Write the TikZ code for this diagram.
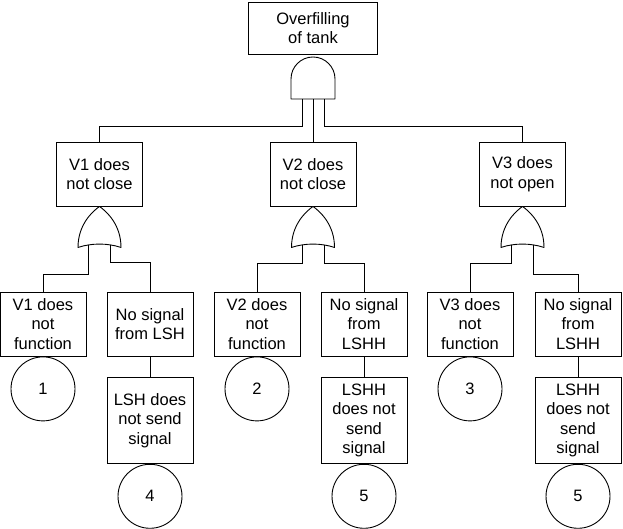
\documentclass[tikz,border=0pt]{standalone}
\usepackage{fontspec}
\setmainfont{Liberation Sans}
\usetikzlibrary{positioning}
\tikzset{
  eventbox/.style={
    draw,
    line width=0.9pt,
    minimum width=86pt,
    minimum height=64pt,
    inner sep=0pt,
    align=center,
    font=\fontsize{16.5}{19.5}\selectfont
  },
  topbox/.style={eventbox, minimum width=129pt, minimum height=52pt},
  basebox/.style={eventbox, minimum height=85.5pt},
  basecircle/.style={
    circle,
    draw,
    line width=0.9pt,
    minimum size=64pt,
    inner sep=0pt,
    font=\fontsize{16.5}{19.5}\selectfont
  },
  link/.style={line width=0.9pt},
  gateline/.style={draw, line width=0.9pt, fill=white, line join=round},
  andgate/.pic={
    \draw[gateline] (-22,0) -- (-22,20) arc[start angle=180, end angle=0, radius=22] -- (22,0) -- cycle;
    \coordinate (-in1) at (-11,0);
    \coordinate (-in2) at (0,0);
    \coordinate (-in3) at (11,0);
  },
  orgate/.pic={
    \draw[gateline] (0,0) .. controls (7,-5) and (21.5,-18) .. (21.5,-41)
      .. controls (8,-36.5) and (-8,-36.5) .. (-21.5,-41)
      .. controls (-21.5,-18) and (-7,-5) .. cycle;
    \coordinate (-in1) at (-11,-38.3);
    \coordinate (-in2) at (11,-38.3);
  }
}
\begin{document}
\begin{tikzpicture}[x=1pt, y=1pt]
\useasboundingbox (0,0) rectangle (623,529);
% top event
\node[topbox] (overfill) at (313,501) {Overfilling\\of tank};
\pic (and0) at (313,430) {andgate};
% intermediate events
\node[eventbox] (v1close) at (99.5,355) {V1 does\\not close};
\node[eventbox] (v2close) at (313,355) {V2 does\\not close};
\node[eventbox] (v3open) at (522.5,355) {V3 does\\not open};
\pic (or1) at (v1close.south) {orgate};
\pic (or2) at (v2close.south) {orgate};
\pic (or3) at (v3open.south) {orgate};
% lower events
\node[eventbox] (v1fail) at (43,205) {V1 does\\not\\function};
\node[eventbox] (nosig1) at (150,205) {No signal\\from LSH};
\node[eventbox] (v2fail) at (257,205) {V2 does\\not\\function};
\node[eventbox] (nosig2) at (364,205) {No signal\\from\\LSHH};
\node[eventbox] (v3fail) at (470,205) {V3 does\\not\\function};
\node[eventbox] (nosig3) at (578,205) {No signal\\from\\LSHH};
\node[basebox, below=21pt of nosig1] (lshfail) {LSH does\\not send\\signal};
\node[basebox, below=21pt of nosig2] (lshhfail2) {LSHH\\does not\\send\\signal};
\node[basebox, below=21pt of nosig3] (lshhfail3) {LSHH\\does not\\send\\signal};
% basic events
\node[basecircle, below=0pt of v1fail] (ev1) {1};
\node[basecircle, below=0pt of v2fail] (ev2) {2};
\node[basecircle, below=0pt of v3fail] (ev3) {3};
\node[basecircle, below=0pt of lshfail] (ev4) {4};
\node[basecircle, below=0pt of lshhfail2] (ev5a) {5};
\node[basecircle, below=0pt of lshhfail3] (ev5b) {5};
% connectors
\draw[link] (and0-in1) -- ++(0,-27) -| (v1close.north);
\draw[link] (and0-in2) -- (v2close.north);
\draw[link] (and0-in3) -- ++(0,-27) -| (v3open.north);
\draw[link] (or1-in1) -- ++(0,-30) -| (v1fail.north);
\draw[link] (or1-in2) -- ++(0,-18) -| (nosig1.north);
\draw[link] (or2-in1) -- ++(0,-19) -| (v2fail.north);
\draw[link] (or2-in2) -- ++(0,-19) -| (nosig2.north);
\draw[link] (or3-in1) -- ++(0,-19) -| (v3fail.north);
\draw[link] (or3-in2) -- ++(0,-30) -| (nosig3.north);
\draw[link] (nosig1) -- (lshfail);
\draw[link] (nosig2) -- (lshhfail2);
\draw[link] (nosig3) -- (lshhfail3);
\end{tikzpicture}
\end{document}
